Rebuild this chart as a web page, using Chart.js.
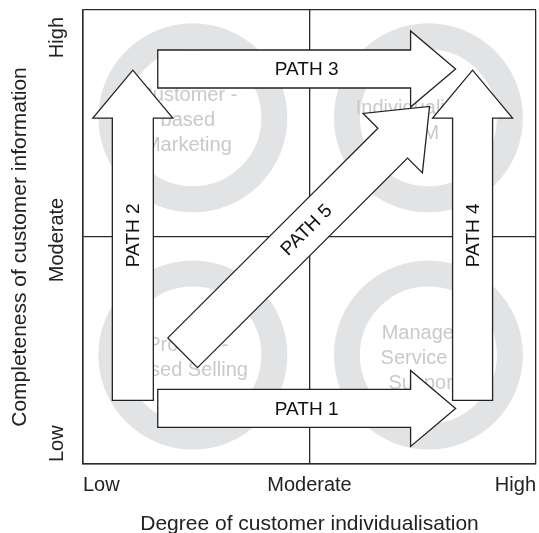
<!DOCTYPE html>
<html>
<head>
<meta charset="utf-8">
<title>Paths to individualised CRM</title>
<script src="https://cdn.jsdelivr.net/npm/chart.js@4.4.0/dist/chart.umd.min.js"></script>
<style>
    html, body { margin: 0; padding: 0; background: #fff; }
    #matrix { display: block; }
</style>
</head>
<body>
<canvas id="matrix" width="539" height="533"></canvas>
<script>
// Axis levels (both axes use the same three levels)
const levelValues = [0, 2, 4];
const levelLabels = ['Low', 'Moderate', 'High'];
const xTitle = 'Degree of customer individualisation';
const yTitle = 'Completeness of customer information';

// Quadrant circles and their (faded) names
const ringX = [0.97, 3.05, 0.97, 3.05];
const ringY = [3.05, 3.05, 0.96, 0.96];
const ringLabels = [
    ['Customer -', 'based', 'Marketing'],
    ['Individualised', 'CRM'],
    ['Product -', 'based Selling'],
    ['Managed', 'Service &', 'Support']
];

// Arrows: tail centre -> tip, in axis units
const pathNames = ['PATH 1', 'PATH 2', 'PATH 3', 'PATH 4', 'PATH 5'];
const pathFromX = [0.66, 0.44, 0.66, 3.44, 0.88];
const pathFromY = [0.49, 0.56, 3.48, 0.56, 0.98];
const pathToX = [3.29, 0.44, 3.29, 3.44, 3.06];
const pathToY = [0.49, 3.47, 3.48, 3.47, 3.15];

const FONT = '"Liberation Sans", Arial, Helvetica, sans-serif';
const INK = '#222';

// arrow drawing sizes in px: half shaft, half head, head length
const arrowSizes = [
    [19, 38, 45],
    [20.5, 40, 48],
    [19, 38, 45],
    [20, 40, 48],
    [21, 42, 52]
];

document.addEventListener('DOMContentLoaded', () => {
    drawMatrix();
});

function arrowPolygon(ctx, p, t, size) {
    const [s, h, len] = size;
    const dx = t.x - p.x, dy = t.y - p.y;
    const l = Math.hypot(dx, dy);
    const ux = dx / l, uy = dy / l;
    const nx = -uy, ny = ux;
    const bx = t.x - ux * len, by = t.y - uy * len;
    ctx.beginPath();
    ctx.moveTo(p.x + nx * s, p.y + ny * s);
    ctx.lineTo(bx + nx * s, by + ny * s);
    ctx.lineTo(bx + nx * h, by + ny * h);
    ctx.lineTo(t.x, t.y);
    ctx.lineTo(bx - nx * h, by - ny * h);
    ctx.lineTo(bx - nx * s, by - ny * s);
    ctx.lineTo(p.x - nx * s, p.y - ny * s);
    ctx.closePath();
    return Math.atan2(dy, dx);
}

const overlayPlugin = {
    id: 'overlay',
    afterDatasetsDraw(chart) {
        const ctx = chart.ctx;
        const xs = chart.scales.x, ys = chart.scales.y;
        const area = chart.chartArea;

        // faded quadrant names (sit under the arrows)
        ctx.save();
        ctx.font = '20px ' + FONT;
        ctx.fillStyle = '#c9c9cb';
        ctx.textAlign = 'center';
        ctx.textBaseline = 'middle';
        ringLabels.forEach((lines, i) => {
            const cx = xs.getPixelForValue(ringX[i]) - (i === 1 ? 12 : 5);
            const cy = ys.getPixelForValue(ringY[i]) + 3;
            const top = cy - (lines.length - 1) * 25 / 2;
            lines.forEach((line, k) => ctx.fillText(line, cx, top + k * 25));
        });
        ctx.restore();

        // arrows
        pathNames.forEach((name, i) => {
            const p = { x: xs.getPixelForValue(pathFromX[i]), y: ys.getPixelForValue(pathFromY[i]) };
            const t = { x: xs.getPixelForValue(pathToX[i]), y: ys.getPixelForValue(pathToY[i]) };
            ctx.save();
            const angle = arrowPolygon(ctx, p, t, arrowSizes[i]);
            ctx.fillStyle = '#fff';
            ctx.fill();
            ctx.lineWidth = 1.3;
            ctx.lineJoin = 'miter';
            ctx.strokeStyle = INK;
            ctx.stroke();

            ctx.translate((p.x + t.x) / 2, (p.y + t.y) / 2);
            ctx.rotate(angle);
            ctx.font = '19px ' + FONT;
            ctx.fillStyle = '#111';
            ctx.textAlign = 'center';
            ctx.textBaseline = 'middle';
            ctx.fillText(name, 0, 1);
            ctx.restore();
        });

        // rotated level labels and title on the y axis
        ctx.save();
        ctx.font = '20px ' + FONT;
        ctx.fillStyle = INK;
        ctx.textBaseline = 'middle';
        levelValues.forEach((v, i) => {
            const y = ys.getPixelForValue(v);
            ctx.save();
            ctx.translate(57, y);
            ctx.rotate(-Math.PI / 2);
            if (i === 0) {
                ctx.textAlign = 'left';
                ctx.fillText(levelLabels[i], 2, 0);
            } else if (i === levelValues.length - 1) {
                ctx.textAlign = 'right';
                ctx.fillText(levelLabels[i], -7, 0);
            } else {
                ctx.textAlign = 'center';
                ctx.fillText(levelLabels[i], -3, 0);
            }
            ctx.restore();
        });
        ctx.translate(20, (area.top + area.bottom) / 2 + 10);
        ctx.rotate(-Math.PI / 2);
        ctx.font = '21px ' + FONT;
        ctx.textAlign = 'center';
        ctx.fillText(yTitle, 0, 0);
        ctx.restore();
    }
};

function drawMatrix() {
    const ctx = document.getElementById('matrix').getContext('2d');
    const gridStyle = { color: '#2b2b2b', lineWidth: 1.3, drawTicks: false };
    const borderStyle = { color: '#2b2b2b', width: 1.5 };

    new Chart(ctx, {
        type: 'scatter',
        data: {
            datasets: [{
                label: 'quadrants',
                data: ringX.map((x, i) => ({ x: x, y: ringY[i] })),
                pointRadius: 81.5,
                pointHoverRadius: 81.5,
                pointBorderWidth: 26,
                pointBorderColor: '#e2e3e5',
                pointBackgroundColor: 'rgba(0,0,0,0)'
            }]
        },
        options: {
            responsive: false,
            animation: false,
            events: [],
            devicePixelRatio: 1,
            layout: { autoPadding: false, padding: { left: 0, right: 3, top: 10, bottom: 0 } },
            plugins: {
                legend: { display: false },
                tooltip: { enabled: false }
            },
            scales: {
                x: {
                    type: 'linear',
                    min: 0,
                    max: 4,
                    afterBuildTicks: s => { s.ticks = levelValues.map(v => ({ value: v })); },
                    afterFit: s => { s.height = 69; s.paddingLeft = 0; s.paddingRight = 0; },
                    grid: gridStyle,
                    border: borderStyle,
                    ticks: {
                        align: 'inner',
                        padding: 9,
                        color: INK,
                        font: { family: FONT, size: 20 },
                        callback: v => levelLabels[levelValues.indexOf(v)]
                    },
                    title: {
                        display: true,
                        text: xTitle,
                        color: INK,
                        font: { family: FONT, size: 21, lineHeight: 1 },
                        padding: { top: 0, bottom: -2 }
                    }
                },
                y: {
                    type: 'linear',
                    min: 0,
                    max: 4,
                    afterBuildTicks: s => { s.ticks = levelValues.map(v => ({ value: v })); },
                    afterFit: s => { s.width = 83; s.paddingTop = 0; s.paddingBottom = 0; },
                    grid: gridStyle,
                    border: borderStyle,
                    ticks: { display: false }
                }
            }
        },
        plugins: [overlayPlugin]
    });
}
</script>
</body>
</html>
